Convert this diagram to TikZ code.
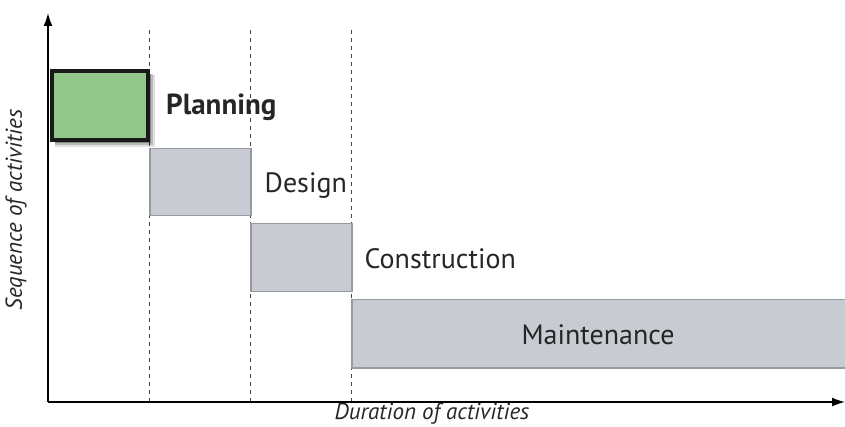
\documentclass[tikz,border=0pt]{standalone}
\usepackage{fontspec}
\setmainfont{PT Sans}
\usepackage{tikz}
\usetikzlibrary{positioning}
\usetikzlibrary{shadows}
\usetikzlibrary{arrows.meta}

\definecolor{plangreen}{RGB}{146,198,138}
\definecolor{phasegray}{RGB}{200,203,210}
\definecolor{phaseedge}{RGB}{150,155,162}
\definecolor{guide}{RGB}{70,70,70}

\tikzset{
	phase/.style={draw=phaseedge, line width=1.5pt, fill=phasegray, inner sep=0pt, anchor=north west},
	phaselabel/.style={font=\fontsize{28}{32}\selectfont, text=black!85, inner sep=0pt},
	axislabel/.style={font=\fontsize{23}{26}\selectfont\itshape, text=black!85},
	softshadow/.style={
		drop shadow={shadow xshift=5pt, shadow yshift=-5pt, shadow scale=1.04, opacity=0.12, fill=black},
		drop shadow={shadow xshift=4pt, shadow yshift=-4pt, shadow scale=1.02, opacity=0.18, fill=black},
		drop shadow={shadow xshift=3pt, shadow yshift=-3pt, opacity=0.25, fill=black}},
}

\begin{document}
\begin{tikzpicture}[x=1pt, y=-1pt]
		\useasboundingbox (0,0) rectangle (845,427);
		\coordinate (O) at (48,402);
		\coordinate (ytop) at (48,13);
		\coordinate (xend) at (845,402);
		% guide lines
		\foreach \gx/\gn in {149/a, 250/b, 351/c} {
			\coordinate (g\gn top) at (\gx,30);
			\coordinate (g\gn bot) at (\gx,402);
			\draw[guide, line width=0.9pt, dash pattern=on 4pt off 4pt] (g\gn top) -- (g\gn bot);
		}
		% phases
		\node[phase, minimum width=101pt, minimum height=67pt] (design) at (149,148) {};
		\node[phase, minimum width=101pt, minimum height=68pt] (constr) at (250,223) {};
		\node[phase, minimum width=500pt, minimum height=68pt] (maint) at (351,299) {};
		\node[phaselabel] (maintlbl) at (598,335) {Maintenance};
		\node[draw=black!90, line width=4pt, fill=plangreen, inner sep=0pt, anchor=north west,
			minimum width=96pt, minimum height=69pt, softshadow] (plan) at (50,69) {};
		\node[phaselabel, font=\fontsize{29}{32}\selectfont\bfseries, right = 16pt of plan, yshift=-2pt] (planlbl) {Planning};
		\node[phaselabel, right = 13pt of design, yshift=-3pt] (designlbl) {Design};
		\node[phaselabel, right = 12pt of constr, yshift=-1pt] (constrlbl) {Construction};
		% axes
		\draw[line width=1.4pt, -{Latex[length=13pt, width=9pt]}] (O) -- (ytop);
		\draw[line width=1.4pt, -{Latex[length=13pt, width=9pt]}] (O) -- (xend);
		\node[axislabel] (xlbl) at (432,414) {Duration of activities};
		\node[axislabel, rotate=90] (ylbl) at (16,210) {Sequence of activities};
	\end{tikzpicture}
\end{document}
